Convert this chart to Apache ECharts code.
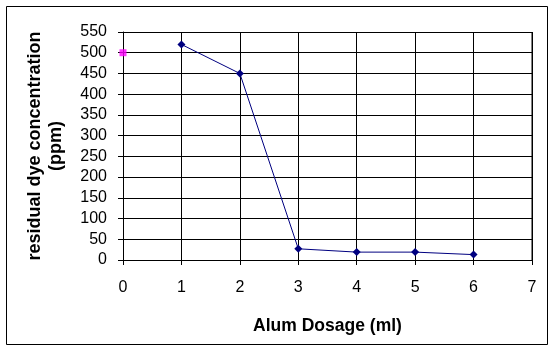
<!DOCTYPE html>
<html>
<head>
<meta charset="utf-8">
<script src="https://cdn.jsdelivr.net/npm/echarts@6/dist/echarts.min.js"></script>
<style>
html,body{margin:0;padding:0;background:#fff;}
#chart{width:557px;height:352px;}
</style>
</head>
<body>
<div id="chart"></div>
<script>
const dosage = [1, 2, 3, 4, 5, 6];
const residual = [520, 450, 27, 19, 19, 13];
const initialDosage = [0];
const initialValue = [500];
const xTitle = 'Alum Dosage (ml)';
const yTitle = 'residual dye concentration\n(ppm)';

const chart = echarts.init(document.getElementById('chart'));
const FONT = '"Liberation Sans", Arial, sans-serif';
chart.setOption({
  animation: false,
  backgroundColor: '#fff',
  grid: {left: 123, right: 25, top: 32, bottom: 92, containLabel: false},
  xAxis: {
    type: 'value', min: 0, max: 7, interval: 1,
    name: xTitle, nameLocation: 'middle', nameGap: 57,
    nameTextStyle: {fontFamily: FONT, fontWeight: 'bold', fontSize: 17.5, color: '#000'},
    axisLine: {show: true, lineStyle: {color: '#000', width: 1}},
    axisTick: {show: true, length: 5, lineStyle: {color: '#000'}},
    axisLabel: {fontFamily: FONT, fontSize: 16, color: '#000', margin: 20},
    splitLine: {show: true, lineStyle: {color: '#000', width: 1}}
  },
  yAxis: {
    type: 'value', min: 0, max: 550, interval: 50,
    axisLine: {show: true, lineStyle: {color: '#000', width: 1}},
    axisTick: {show: true, length: 5, lineStyle: {color: '#000'}},
    axisLabel: {fontFamily: FONT, fontSize: 16, color: '#000', margin: 16},
    splitLine: {show: true, lineStyle: {color: '#000', width: 1}}
  },
  graphic: [
    {type: 'rect', shape: {x: 6.5, y: 6.5, width: 541, height: 338}, style: {fill: 'none', stroke: '#000', lineWidth: 1}, silent: true, z: -1},
    {type: 'line', shape: {x1: 532, y1: 32, x2: 532, y2: 260}, style: {stroke: '#000', lineWidth: 1}, z: 1},
    {type: 'text', x: 46, y: 146, rotation: Math.PI / 2,
     style: {text: yTitle, font: 'bold 18px ' + FONT, fill: '#000', textAlign: 'center', textVerticalAlign: 'middle', lineHeight: 21}}
  ],
  series: [
    {
      type: 'line', data: dosage.map((d, i) => [d, residual[i]]),
      symbol: 'diamond', symbolSize: 8, clip: false,
      lineStyle: {color: '#000080', width: 1},
      itemStyle: {color: '#000080'}, z: 3
    },
    {
      type: 'scatter', data: initialDosage.map((d, i) => [d, initialValue[i]]),
      symbol: 'rect', symbolSize: 7, clip: false,
      itemStyle: {color: '#ff00ff'}, z: 3
    }
  ]
});
</script>
</body>
</html>
